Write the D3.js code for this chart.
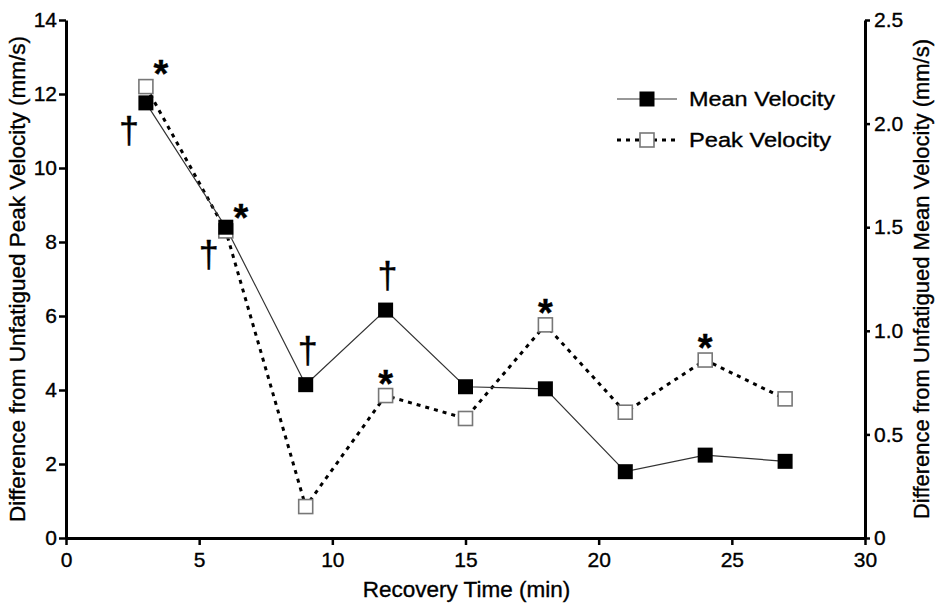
<!DOCTYPE html>
<html>
<head>
<meta charset="utf-8">
<script src="https://cdn.jsdelivr.net/npm/d3@7"></script>
<style>
  body { margin: 0; background: #fff; }
  svg text { font-family: "Liberation Sans", Arial, sans-serif; fill: #000; stroke: #000; stroke-width: 0.35px; }
</style>
</head>
<body>
<div id="chart"></div>
<script>
// recovery time (min)
var times = [3, 6, 9, 12, 15, 18, 21, 24, 27];
// right axis, mm/s
var meanVelocity = [2.10, 1.50, 0.74, 1.10, 0.73, 0.72, 0.32, 0.40, 0.37];
// left axis, mm/s
var peakVelocity = [12.2, 8.3, 0.85, 3.85, 3.23, 5.76, 3.40, 4.81, 3.76];

var xTicks = [0, 5, 10, 15, 20, 25, 30];
var leftTicks = [0, 2, 4, 6, 8, 10, 12, 14];
var rightTicks = [0, 0.5, 1.0, 1.5, 2.0, 2.5];

// significance marks: time, which series, where
var starMarks = [
    {time: 3, series: "peak", place: "upper-right"},
    {time: 6, series: "peak", place: "upper-right"},
    {time: 12, series: "peak", place: "above"},
    {time: 18, series: "peak", place: "above"},
    {time: 24, series: "peak", place: "above"}
];
var daggerMarks = [
    {time: 3, series: "mean", place: "lower-left"},
    {time: 6, series: "mean", place: "lower-left"},
    {time: 9, series: "mean", place: "above"},
    {time: 12, series: "mean", place: "above"}
];

var width = 936, height = 606;
var margin = {top: 20, right: 71, bottom: 68, left: 66};

var svg = d3.select("#chart").append("svg")
    .attr("width", width)
    .attr("height", height);

var x = d3.scaleLinear().domain([0, 30]).range([margin.left, width - margin.right]);
var yLeft = d3.scaleLinear().domain([0, 14]).range([height - margin.bottom, margin.top]);
var yRight = d3.scaleLinear().domain([0, 2.5]).range([height - margin.bottom, margin.top]);

var fmt = function(d) { return d === 0 ? "0" : d3.format(".1f")(d); };

function styleAxis(g) {
    g.select(".domain").attr("stroke", "#000").attr("stroke-width", 3);
    g.selectAll(".tick line").attr("stroke", "#000").attr("stroke-width", 2.5);
    g.selectAll(".tick text")
        .style("font-family", "'Liberation Sans', Arial, sans-serif")
        .style("font-size", "21px")
        .attr("fill", "#000");
}

svg.append("g")
    .attr("transform", "translate(0," + (height - margin.bottom) + ")")
    .call(d3.axisBottom(x).tickValues(xTicks).tickSize(7).tickSizeOuter(0).tickPadding(7))
    .call(styleAxis);

svg.append("g")
    .attr("transform", "translate(" + margin.left + ",0)")
    .call(d3.axisLeft(yLeft).tickValues(leftTicks).tickSize(7).tickSizeOuter(0).tickPadding(2))
    .call(styleAxis);

svg.append("g")
    .attr("transform", "translate(" + (width - margin.right) + ",0)")
    .call(d3.axisRight(yRight).tickValues(rightTicks).tickFormat(fmt).tickSize(5).tickSizeOuter(0).tickPadding(4))
    .call(styleAxis);

// axis titles
svg.append("text")
    .attr("x", (margin.left + width - margin.right) / 2 + 1)
    .attr("y", 597)
    .attr("text-anchor", "middle")
    .style("font-size", "22.5px")
    .text("Recovery Time (min)");

svg.append("text")
    .attr("transform", "translate(25," + (height - margin.bottom + margin.top) / 2 + ") rotate(-90)")
    .attr("text-anchor", "middle")
    .style("font-size", "22.5px")
    .text("Difference from Unfatigued Peak Velocity (mm/s)");

svg.append("text")
    .attr("transform", "translate(929," + (height - margin.bottom + margin.top) / 2 + ") rotate(-90)")
    .attr("text-anchor", "middle")
    .style("font-size", "22px")
    .text("Difference from Unfatigued Mean Velocity (mm/s)");

var peakData = times.map(function(t, i) { return {t: t, v: peakVelocity[i]}; });
var meanData = times.map(function(t, i) { return {t: t, v: meanVelocity[i]}; });

var peakLine = d3.line().x(function(d) { return x(d.t); }).y(function(d) { return yLeft(d.v); });
var meanLine = d3.line().x(function(d) { return x(d.t); }).y(function(d) { return yRight(d.v); });

// peak series first so the filled squares sit on top
svg.append("path")
    .datum(peakData)
    .attr("d", peakLine)
    .attr("fill", "none")
    .attr("stroke", "#000")
    .attr("stroke-width", 3)
    .attr("stroke-dasharray", "4,5");

svg.append("path")
    .datum(meanData)
    .attr("d", meanLine)
    .attr("fill", "none")
    .attr("stroke", "#333")
    .attr("stroke-width", 1.2);

var openSize = 14, filledSize = 15;

svg.selectAll("rect.peak").data(peakData)
    .enter().append("rect")
    .attr("class", "peak")
    .attr("x", function(d) { return x(d.t) - openSize / 2; })
    .attr("y", function(d) { return yLeft(d.v) - openSize / 2; })
    .attr("width", openSize)
    .attr("height", openSize)
    .attr("fill", "#fff")
    .attr("stroke", "#777")
    .attr("stroke-width", 1.6);

svg.selectAll("rect.mean").data(meanData)
    .enter().append("rect")
    .attr("class", "mean")
    .attr("x", function(d) { return x(d.t) - filledSize / 2; })
    .attr("y", function(d) { return yRight(d.v) - filledSize / 2; })
    .attr("width", filledSize)
    .attr("height", filledSize)
    .attr("fill", "#000");

// annotation placement relative to the point
function markPos(m) {
    var i = times.indexOf(m.time);
    var px = x(m.time);
    var py = m.series === "peak" ? yLeft(peakVelocity[i]) : yRight(meanVelocity[i]);
    return {x: px, y: py};
}

var starShift = {"above": [0, -20], "upper-right": [15, -21]};
var daggerShift = {"above": [2, -33], "lower-left": [-17, 29]};

svg.selectAll("text.star").data(starMarks)
    .enter().append("text")
    .attr("class", "star")
    .attr("x", function(d) { return markPos(d).x + starShift[d.place][0]; })
    .attr("y", function(d) { return markPos(d).y + starShift[d.place][1] + 21; })
    .attr("text-anchor", "middle")
    .style("font-size", "38px")
    .style("font-weight", "bold")
    .text("*");

svg.selectAll("text.dagger").data(daggerMarks)
    .enter().append("text")
    .attr("class", "dagger")
    .attr("x", function(d) { return markPos(d).x + daggerShift[d.place][0]; })
    .attr("y", function(d) { return markPos(d).y + daggerShift[d.place][1] + 11; })
    .attr("text-anchor", "middle")
    .style("font-size", "36px")
    .text("\u2020");

// legend
var legend = svg.append("g");
var legendRows = [
    {label: "Mean Velocity", y: 99, dash: null, fill: "#000", stroke: "none", lw: 1.2, lc: "#333", size: filledSize},
    {label: "Peak Velocity", y: 140, dash: "4,5", fill: "#fff", stroke: "#777", lw: 3, lc: "#000", size: openSize}
];
legendRows.forEach(function(r) {
    legend.append("line")
        .attr("x1", 617).attr("x2", 677)
        .attr("y1", r.y).attr("y2", r.y)
        .attr("stroke", r.lc)
        .attr("stroke-width", r.lw)
        .attr("stroke-dasharray", r.dash);
    legend.append("rect")
        .attr("x", 647 - r.size / 2).attr("y", r.y - r.size / 2)
        .attr("width", r.size).attr("height", r.size)
        .attr("fill", r.fill)
        .attr("stroke", r.stroke)
        .attr("stroke-width", 1.6);
    legend.append("text")
        .attr("x", 689)
        .attr("y", r.y + 7)
        .attr("textLength", r.label === "Mean Velocity" ? 146 : 142)
        .attr("lengthAdjust", "spacingAndGlyphs")
        .style("font-size", "20.5px")
        .text(r.label);
});
</script>
</body>
</html>
